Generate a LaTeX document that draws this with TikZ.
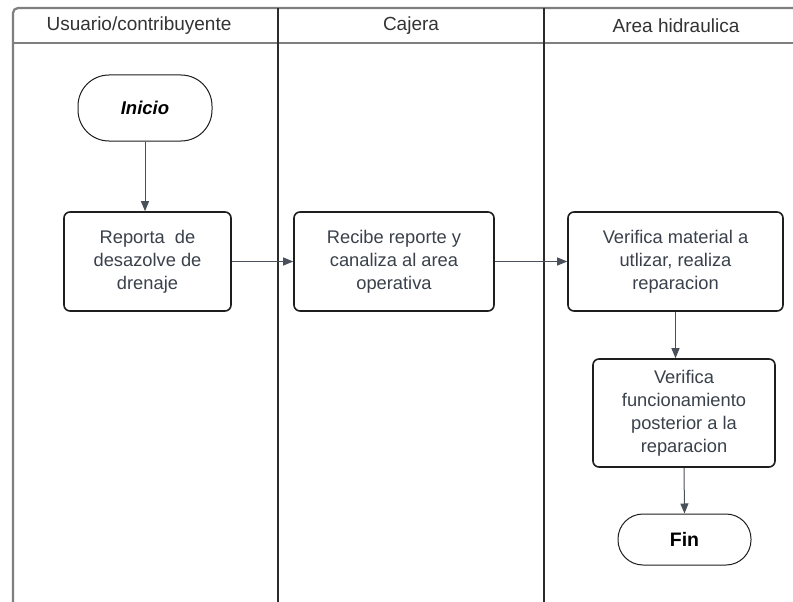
\documentclass[tikz,border=0pt]{standalone}
\usepackage{fontspec}
\setmainfont{Liberation Sans}
\usetikzlibrary{arrows.meta}
\definecolor{poolgray}{HTML}{7F7F7F}
\definecolor{divdark}{HTML}{2B2B2B}
\definecolor{boxline}{HTML}{1E1E1E}
\definecolor{arrowc}{HTML}{4A505A}
\definecolor{txt}{HTML}{3A414B}
\definecolor{hdr}{HTML}{333333}
\begin{document}
\begin{tikzpicture}[x=1pt,y=-1pt,
  procbox/.style={draw=boxline, line width=1.6pt, rounded corners=6pt, fill=white,
    text=txt, align=center, inner sep=0pt, font=\fontsize{18.3}{23}\selectfont},
  termbox/.style={draw=boxline, line width=1pt, fill=white, text=black,
    align=center, inner sep=0pt, font=\fontsize{19.5}{22}\selectfont\bfseries},
  flow/.style={draw=arrowc, line width=1pt, -{Triangle[width=8pt,length=10pt]}},
  lanehead/.style={text=hdr, font=\fontsize{19}{22}\selectfont}
]
\useasboundingbox (0,0) rectangle (793,602);
\clip (0,0) rectangle (793,602);
\fill[white] (0,0) rectangle (793,602);
% pool
\draw[poolgray, line width=2.2pt, rounded corners=5pt] (13,620) -- (13,8) -- (820,8);
\draw[poolgray, line width=2.2pt] (13,43) -- (820,43);
\draw[divdark, line width=1.3pt] (278,8) -- (278,620);
\draw[divdark, line width=1.3pt] (544,8) -- (544,620);
% headers
\node[lanehead] (h1) at (139,25.5) {Usuario/contribuyente};
\node[lanehead] (h2) at (411,25.5) {Cajera};
\node[lanehead] (h3) at (676,25.5) {Area hidraulica};
% nodes
\node[termbox, rounded corners=31pt, minimum width=134pt, minimum height=66pt,
  font=\fontsize{18.5}{22}\selectfont\bfseries\itshape] (inicio) at (145,108) {Inicio};
\node[procbox, minimum width=167pt, minimum height=99pt] (reporta) at (147.5,261.5)
  {Reporta\ \ de\\desazolve de\\drenaje};
\node[procbox, minimum width=200pt, minimum height=99pt] (recibe) at (394,261.5)
  {Recibe reporte y\\canaliza al area\\operativa};
\node[procbox, minimum width=215pt, minimum height=99pt] (vmat) at (675.5,261.5)
  {Verifica material a\\utlizar, realiza\\reparacion};
\node[procbox, minimum width=182pt, minimum height=108pt] (vfun) at (684,413)
  {Verifica\\funcionamiento\\posterior a la\\reparacion};
\node[termbox, rounded corners=25pt, minimum width=133pt, minimum height=51pt] (fin) at (684.5,539.5) {Fin};
% connectors
\draw[flow] (inicio.south) -- (inicio.south |- reporta.north);
\draw[flow] (reporta.east) -- (recibe.west);
\draw[flow] (recibe.east) -- (vmat.west);
\draw[flow] (vmat.south) -- (vmat.south |- vfun.north);
\draw[flow] (vfun.south) -- (fin.north);
\end{tikzpicture}
\end{document}
